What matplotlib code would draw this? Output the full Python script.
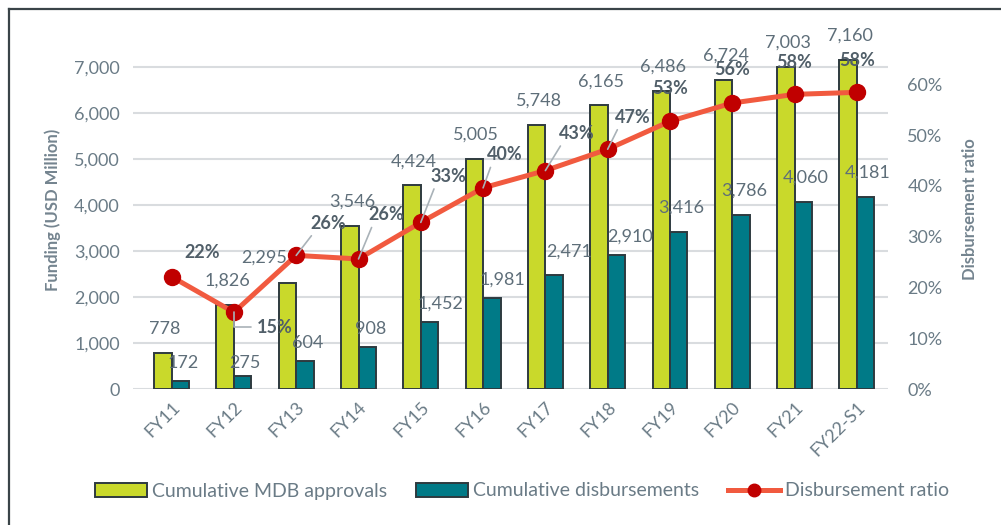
import matplotlib
matplotlib.use('Agg')
import matplotlib.pyplot as plt
import numpy as np
from matplotlib.patches import Patch
from matplotlib.lines import Line2D

plt.rcParams['font.family'] = ['Lato', 'DejaVu Sans']

# data
years = ['FY11', 'FY12', 'FY13', 'FY14', 'FY15', 'FY16',
         'FY17', 'FY18', 'FY19', 'FY20', 'FY21', 'FY22-S1']
approvals = [778, 1826, 2295, 3546, 4424, 5005, 5748, 6165, 6486, 6724, 7003, 7160]
disbursements = [172, 275, 604, 908, 1452, 1981, 2471, 2910, 3416, 3786, 4060, 4181]
ratio = [0.221, 0.151, 0.263, 0.256, 0.328, 0.396, 0.430, 0.472, 0.527, 0.563, 0.580, 0.584]

# label offsets (pixels) from the mark they belong to
appr_off = [(2, 24)] * 12
appr_off[2] = (-23, 26)
disb_off = [(3, 18), (2, 13), (3, 18), (3, 18), (11, 19), (11, 18),
            (15, 24), (14, 19), (2, 24), (3, 24), (2, 25), (2, 24)]
pct_off = [(31, 24), (41, -15), (32, 32), (28, 44), (28, 46), (22, 33),
           (31, 37), (25, 32), (0, 33), (0, 33), (0, 32), (0, 32)]
pct_leader = [False, True, True, True, True, True, True, True, False, False, False, False]

GREEN = '#c9d92b'
TEAL = '#007a87'
EDGE = '#2e3a3f'
LINE = '#f15a3f'
DOT = '#c00000'
TXT = '#6a7b86'
LBL = '#5e6e79'
PCT = '#515f69'

fig = plt.figure(figsize=(10.01, 5.25), dpi=100)
W, H = 1001, 525
ax = fig.add_axes([133 / W, (H - 389) / H, (888 - 133) / W, 359 / H])
ax2 = ax.twinx()

x = np.arange(len(years))
bw = 0.28
ax.bar(x - bw / 2, approvals, bw, color=GREEN, edgecolor=EDGE, linewidth=1.4, zorder=2)
ax.bar(x + bw / 2, disbursements, bw, color=TEAL, edgecolor=EDGE, linewidth=1.4, zorder=2)
ax2.plot(x, ratio, color=LINE, lw=3.6, marker='o', ms=11.5,
         markerfacecolor=DOT, markeredgecolor=DOT, zorder=3)

ax.set_xlim(-0.62, 11.5)
ax.set_ylim(0, 7804)
ax2.set_ylim(0, 0.7067)
ax.set_yticks(range(0, 7001, 1000))
ax.set_yticklabels([f'{v:,}' for v in range(0, 7001, 1000)])
ax2.set_yticks(np.arange(0, 0.61, 0.1))
ax2.set_yticklabels([f'{int(round(v * 100))}%' for v in np.arange(0, 0.61, 0.1)])
ax.set_xticks(x)
ax.set_xticklabels(years, rotation=45, ha='right', va='top', rotation_mode='anchor')

ax.set_axisbelow(True)
ax.grid(axis='y', color='#d9dcdf', lw=1.5)
ax.grid(axis='x', visible=False)
for a in (ax, ax2):
    for s in a.spines.values():
        s.set_visible(False)
ax.tick_params(axis='y', length=0, pad=9.5, labelsize=13, labelcolor=TXT)
ax.tick_params(axis='x', length=0, pad=7, labelsize=13, labelcolor=TXT)
ax2.tick_params(axis='y', length=0, pad=14, labelsize=13, labelcolor=TXT)

ax.set_ylabel('Funding (USD Million)', fontsize=12, fontweight='bold', color='#74848f')
ax.yaxis.set_label_coords((61 - 133) / (888 - 133), 0.5)
ax2.set_ylabel('Disbursement ratio', fontsize=12, fontweight='bold', color='#74848f')
ax2.yaxis.set_label_coords((962 - 133) / (888 - 133), 0.5)

for i in range(len(years)):
    ax.annotate(f'{approvals[i]:,}', (x[i] - bw / 2, approvals[i]), xytext=appr_off[i],
                textcoords='offset pixels', ha='center', va='center',
                fontsize=13, color=LBL, annotation_clip=False)
    ax.annotate(f'{disbursements[i]:,}', (x[i] + bw / 2, disbursements[i]), xytext=disb_off[i],
                textcoords='offset pixels', ha='center', va='center',
                fontsize=13, color=LBL, annotation_clip=False)
    props = None
    if pct_leader[i]:
        if i == 1:
            props = dict(arrowstyle='-', color='#a9b2b8', lw=1.2, shrinkA=2, shrinkB=0,
                         relpos=(0, 0.5), connectionstyle='angle,angleA=0,angleB=90,rad=0')
        else:
            props = dict(arrowstyle='-', color='#a9b2b8', lw=1.2, shrinkA=1, shrinkB=0,
                         relpos=(0.15, 0.1))
    ax2.annotate(f'{int(round(ratio[i] * 100))}%', (x[i], ratio[i]), xytext=pct_off[i],
                 textcoords='offset pixels', ha='center', va='center', fontsize=13,
                 fontweight='bold', color=PCT, arrowprops=props, annotation_clip=False,
                 zorder=5)

handles = [Patch(facecolor=GREEN, edgecolor=EDGE, linewidth=1.4),
           Patch(facecolor=TEAL, edgecolor=EDGE, linewidth=1.4),
           Line2D([0], [0], color=LINE, lw=3.6, marker='o', ms=9,
                  markerfacecolor=DOT, markeredgecolor=DOT)]
fig.legend(handles, ['Cumulative MDB approvals', 'Cumulative disbursements', 'Disbursement ratio'],
           loc='center', bbox_to_anchor=(0.5215, (H - 491) / H), ncol=3, frameon=False,
           fontsize=14, labelcolor=TXT, handlelength=2.7, handleheight=0.7,
           handletextpad=0.26, columnspacing=1.45)

# border on the left and top edges
fig.add_artist(Line2D([9 / W, 9 / W], [0, 1 - 9 / H], color='#3a4448', lw=1.6))
fig.add_artist(Line2D([9 / W, 1], [1 - 9 / H, 1 - 9 / H], color='#3a4448', lw=1.6))

fig.savefig('out.png', dpi=100)
